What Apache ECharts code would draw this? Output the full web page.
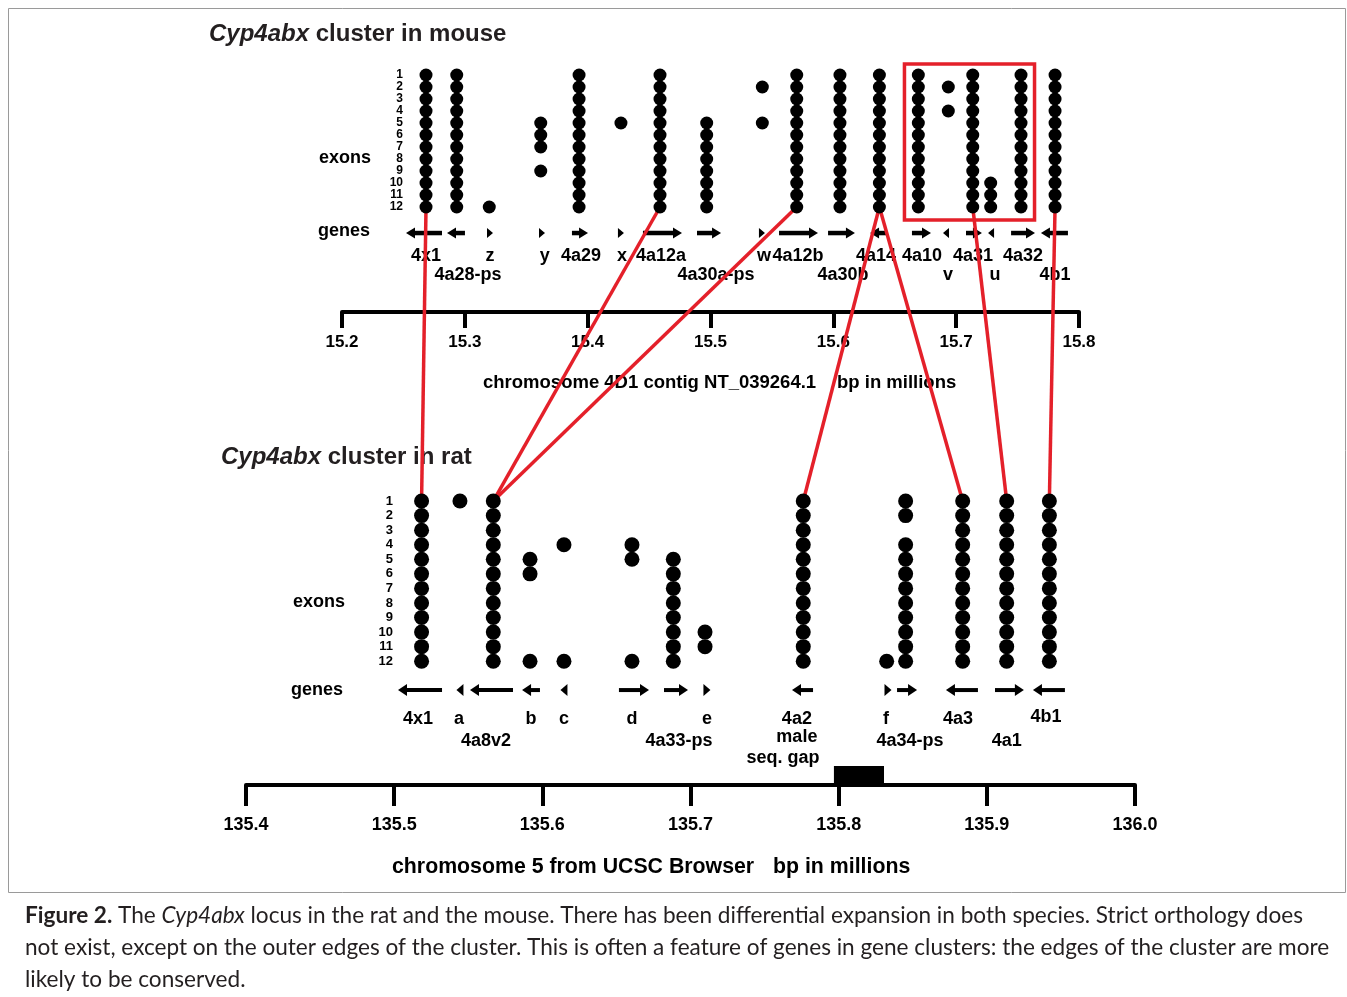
<!DOCTYPE html>
<html><head><meta charset="utf-8">
<script src="https://cdn.jsdelivr.net/npm/echarts@6/dist/echarts.min.js"></script>
<style>html,body{margin:0;padding:0;background:#fff}#c{width:1347px;height:997px}</style>
</head><body><div id="c"></div>
<script>
// ---------------- MOUSE (chromosome 4D1, Mb) ----------------
const mouseGeneNames = ['4x1','4a28-ps','z','y','4a29','x','4a12a','4a30a-ps','w','4a12b','4a30b','4a14','4a10','v','4a31','u','4a32','4b1'];
const mouseGenePos   = [15.2684,15.2934,15.3199,15.3618,15.3930,15.4271,15.4589,15.4969,15.5422,15.5702,15.6054,15.6375,15.6692,15.6936,15.7135,15.7281,15.7528,15.7805];
const mouseExons = [
  [1,2,3,4,5,6,7,8,9,10,11,12],
  [1,2,3,4,5,6,7,8,9,10,11,12],
  [12],
  [5,6,7,9],
  [1,2,3,4,5,6,7,8,9,10,11,12],
  [5],
  [1,2,3,4,5,6,7,8,9,10,11,12],
  [5,6,7,8,9,10,11,12],
  [2,5],
  [1,2,3,4,5,6,7,8,9,10,11,12],
  [1,2,3,4,5,6,7,8,9,10,11,12],
  [1,2,3,4,5,6,7,8,9,10,11,12],
  [1,2,3,4,5,6,7,8,9,10,11,12],
  [2,4],
  [1,2,3,4,5,6,7,8,9,10,11,12],
  [10,11,12],
  [1,2,3,4,5,6,7,8,9,10,11,12],
  [1,2,3,4,5,6,7,8,9,10,11,12]
];
// gene arrows: [tail, head] in Mb
const mouseArrowTail = [15.2814,15.3001,15.3872,15.4450,15.4890,15.5558,15.5957,15.6437,15.6640,15.7080,15.7447,15.7910];
const mouseArrowHead = [15.2521,15.2855,15.4003,15.4768,15.5086,15.5875,15.6176,15.6299,15.6795,15.7210,15.7642,15.7690];
// short genes: triangle position and direction (+1 right, -1 left)
const mouseTriPos = [15.3205,15.3628,15.4271,15.5419,15.6917,15.7284];
const mouseTriDir = [1,1,1,1,-1,-1];
// gene labels
const mouseLabelText = ['4x1','z','y','4a29','x','4a12a','w','4a12b','4a14','4a10','4a31','4a32','4a28-ps','4a30a-ps','4a30b','v','u','4b1'];
const mouseLabelPos  = [15.2684,15.3205,15.3650,15.3946,15.4280,15.4597,15.5436,15.5712,15.6347,15.6722,15.7137,15.7544,15.3026,15.5045,15.6079,15.6934,15.7316,15.7805];
const mouseLabelLine = [1,1,1,1,1,1,1,1,1,1,1,1,2,2,2,2,2,2];
const mouseBoxX = [15.6579,15.7638];
const mouseBoxRows = [0.08,13.08];
const mouseTicks = ['15.2','15.3','15.4','15.5','15.6','15.7','15.8'];

// ---------------- RAT (chromosome 5, Mb) ----------------
const ratGeneNames = ['4x1','a','4a8v2','b','c','d','4a33-ps','e','4a2','f','4a34-ps','4a3','4a1','4b1'];
const ratGenePos   = [135.5185,135.5444,135.5669,135.5917,135.6146,135.6605,135.6884,135.7098,135.7761,135.8324,135.8452,135.8837,135.9134,135.9422];
const ratExons = [
  [1,2,3,4,5,6,7,8,9,10,11,12],
  [1],
  [1,2,3,4,5,6,7,8,9,10,11,12],
  [5,6,12],
  [4,12],
  [4,5,12],
  [5,6,7,8,9,10,11,12],
  [10,11],
  [1,2,3,4,5,6,7,8,9,10,11,12],
  [12],
  [1,2,4,5,6,7,8,9,10,11,12],
  [1,2,3,4,5,6,7,8,9,10,11,12],
  [1,2,3,4,5,6,7,8,9,10,11,12],
  [1,2,3,4,5,6,7,8,9,10,11,12]
];
const ratArrowTail = [135.5323,135.5802,135.5984,135.6517,135.6821,135.7827,135.8394,135.8940,135.9055,135.9527];
const ratArrowHead = [135.5026,135.5512,135.5863,135.6720,135.6983,135.7685,135.8529,135.8724,135.9250,135.9311];
const ratTriPos = [135.5444,135.6146,135.7111,135.8333];
const ratTriDir = [-1,-1,1,1];
const ratLabelText = ['4x1','a','b','c','d','e','4a2','f','4a3','4b1','4a8v2','4a33-ps','male','4a34-ps','4a1','seq. gap'];
const ratLabelPos  = [135.5161,135.5438,135.5923,135.6146,135.6605,135.7111,135.7718,135.8319,135.8805,135.9399,135.5620,135.6922,135.7718,135.8481,135.9134,135.7624];
const ratLabelRow  = [15.97,15.97,15.97,15.97,15.97,15.97,15.97,15.97,15.97,15.83,17.48,17.48,17.2,17.48,17.48,18.65];
const ratGapX = [135.7968,135.8306];
const ratGapRows = [19.19,20.5];
const ratTicks = ['135.4','135.5','135.6','135.7','135.8','135.9','136.0'];

// orthology links: [mouse gene, rat gene]
const orthoLinks = [['4x1','4x1'],['4a12a','4a8v2'],['4a12b','4a8v2'],['4a14','4a2'],['4a14','4a3'],['4a31','4a1'],['4b1','4b1']];

// caption lines
const captionLines = [
  '{b|Figure 2.} The {i|Cyp4abx} locus in the rat and the mouse. There has been differential expansion in both species. Strict orthology does',
  'not exist, except on the outer edges of the cluster. This is often a feature of genes in gene clusters: the edges of the cluster are more',
  'likely to be conserved.'
];

// ---------------- chart ----------------
const FONT = "'Liberation Sans', Arial, Helvetica, sans-serif";
const CAPFONT = "Lato, 'Open Sans', sans-serif";
const RED = '#e4202a';
const chart = echarts.init(document.getElementById('c'));

// caption size fitted to the reference line width (line 2 spans ~1305 px)
const mctx = document.createElement('canvas').getContext('2d');
mctx.font = '20px ' + CAPFONT;
const capSize = Math.min(24, 20 * 1305 / mctx.measureText(captionLines[1]).width);

function exonPoints(pos, exons){ const out=[]; pos.forEach((p,i)=>exons[i].forEach(e=>out.push([p,e]))); return out; }
function arrowRender(headLen, headHalf, shaft){
  return function(params, api){
    const t = api.coord([api.value(0), api.value(2)]);
    const h = api.coord([api.value(1), api.value(2)]);
    const d = h[0] > t[0] ? 1 : -1;
    const bx = h[0] - d*headLen;
    return {type:'group', children:[
      {type:'line', shape:{x1:t[0], y1:t[1], x2:bx + d, y2:t[1]}, style:{stroke:'#000', lineWidth:shaft}},
      {type:'polygon', shape:{points:[[h[0],h[1]],[bx,h[1]-headHalf],[bx,h[1]+headHalf]]}, style:{fill:'#000'}}
    ]};
  };
}
function triRender(w, half){
  return function(params, api){
    const c = api.coord([api.value(0), api.value(2)]);
    const d = api.value(1);
    return {type:'polygon', shape:{points:[[c[0]+d*w/2,c[1]],[c[0]-d*w/2,c[1]-half],[c[0]-d*w/2,c[1]+half]]}, style:{fill:'#000'}};
  };
}
function labelRender(texts, size){
  return function(params, api){
    const c = api.coord([api.value(0), api.value(1)]);
    return {type:'text', x:c[0], y:c[1], style:{text:texts[params.dataIndex], fill:'#000', font:'bold '+size+'px '+FONT, align:'center', verticalAlign:'middle', textAlign:'center', textVerticalAlign:'middle'}};
  };
}
function rectRender(stroke, fill, lw){
  return function(params, api){
    const a = api.coord([api.value(0), api.value(2)]);
    const b = api.coord([api.value(1), api.value(3)]);
    return {type:'rect', shape:{x:a[0], y:a[1], width:b[0]-a[0], height:b[1]-a[1]}, style:{stroke:stroke, fill:fill, lineWidth:lw}};
  };
}

const MOUSE_ARROW_ROW = 14.17, RAT_ARROW_ROW = 13.98;
const mouseLabelRows = mouseLabelLine.map(l => l === 1 ? 16.08 : 17.67);

const option = {
  animation:false,
  backgroundColor:'#fff',
  grid:[
    {left:342, top:63, width:737, height:249},
    {left:246, top:486.5, width:889, height:298.5}
  ],
  xAxis:[
    {gridIndex:0, type:'value', position:'bottom', min:15.2, max:15.8, interval:0.1,
     axisLine:{onZero:false, lineStyle:{color:'#000', width:4}},
     axisTick:{length:16, lineStyle:{color:'#000', width:4}},
     splitLine:{show:false},
     axisLabel:{margin:22, color:'#000', fontFamily:FONT, fontWeight:'bold', fontSize:17,
       formatter:(v)=>mouseTicks[Math.round((v-15.2)*10)]}},
    {gridIndex:1, type:'value', position:'bottom', min:135.4, max:136.0, interval:0.1,
     axisLine:{onZero:false, lineStyle:{color:'#000', width:4}},
     axisTick:{length:21, lineStyle:{color:'#000', width:4}},
     splitLine:{show:false},
     axisLabel:{margin:31, color:'#000', fontFamily:FONT, fontWeight:'bold', fontSize:18,
       formatter:(v)=>ratTicks[Math.round((v-135.4)*10)]}}
  ],
  yAxis:[
    {gridIndex:0, type:'value', min:0, max:20.75, interval:1, inverse:true,
     axisLine:{show:false, onZero:false}, axisTick:{show:false}, splitLine:{show:false},
     axisLabel:{margin:-61, color:'#000', fontFamily:FONT, fontWeight:'bold', fontSize:12,
       formatter:(v)=> (v>=1 && v<=12) ? String(v) : ''}},
    {gridIndex:1, type:'value', min:0, max:20.5, interval:1, inverse:true,
     axisLine:{show:false, onZero:false}, axisTick:{show:false}, splitLine:{show:false},
     axisLabel:{margin:-147, color:'#000', fontFamily:FONT, fontWeight:'bold', fontSize:13,
       formatter:(v)=> (v>=1 && v<=12) ? String(v) : ''}}
  ],
  series:[
    {type:'scatter', xAxisIndex:0, yAxisIndex:0, symbol:'circle', symbolSize:13, itemStyle:{color:'#000', opacity:1}, z:10, silent:true,
     data:exonPoints(mouseGenePos, mouseExons)},
    {type:'scatter', xAxisIndex:1, yAxisIndex:1, symbol:'circle', symbolSize:15, itemStyle:{color:'#000', opacity:1}, z:10, silent:true,
     data:exonPoints(ratGenePos, ratExons)},
    {type:'custom', xAxisIndex:0, yAxisIndex:0, z:2, silent:true, encode:{x:[0,1], y:2},
     renderItem:arrowRender(9, 5.5, 4.5),
     data:mouseArrowTail.map((t,i)=>[t, mouseArrowHead[i], MOUSE_ARROW_ROW])},
    {type:'custom', xAxisIndex:0, yAxisIndex:0, z:2, silent:true, encode:{x:0, y:2},
     renderItem:triRender(6, 5),
     data:mouseTriPos.map((p,i)=>[p, mouseTriDir[i], MOUSE_ARROW_ROW])},
    {type:'custom', xAxisIndex:0, yAxisIndex:0, z:2, silent:true, encode:{x:0, y:1},
     renderItem:labelRender(mouseLabelText, 18),
     data:mouseLabelPos.map((p,i)=>[p, mouseLabelRows[i]])},
    {type:'custom', xAxisIndex:1, yAxisIndex:1, z:2, silent:true, encode:{x:[0,1], y:2},
     renderItem:arrowRender(9, 6, 4),
     data:ratArrowTail.map((t,i)=>[t, ratArrowHead[i], RAT_ARROW_ROW])},
    {type:'custom', xAxisIndex:1, yAxisIndex:1, z:2, silent:true, encode:{x:0, y:2},
     renderItem:triRender(7, 6),
     data:ratTriPos.map((p,i)=>[p, ratTriDir[i], RAT_ARROW_ROW])},
    {type:'custom', xAxisIndex:1, yAxisIndex:1, z:2, silent:true, encode:{x:0, y:1},
     renderItem:labelRender(ratLabelText, 18),
     data:ratLabelPos.map((p,i)=>[p, ratLabelRow[i]])},
    {type:'custom', xAxisIndex:0, yAxisIndex:0, z:6, silent:true, encode:{x:[0,1], y:[2,3]},
     renderItem:rectRender(RED, 'none', 3.5),
     data:[[mouseBoxX[0], mouseBoxX[1], mouseBoxRows[0], mouseBoxRows[1]]]},
    {type:'custom', xAxisIndex:1, yAxisIndex:1, z:2, silent:true, encode:{x:[0,1], y:[2,3]},
     renderItem:rectRender('none', '#000', 0),
     data:[[ratGapX[0], ratGapX[1], ratGapRows[0], ratGapRows[1]]]}
  ]
};
chart.setOption(option);

// graphic: texts, frame, orthology links (through the axes' own conversion)
const txt = (x, y, text, size, extra) => Object.assign({type:'text', x:x, y:y, z:1,
  style:{text:text, fill:'#000', font:'bold '+size+'px '+FONT, align:'left', verticalAlign:'middle'}}, extra||{});
const capRich = {b:{fontWeight:'bold', fontSize:capSize, fontFamily:CAPFONT, fill:'#231f20'},
                 i:{fontStyle:'italic', fontSize:capSize, fontFamily:CAPFONT, fill:'#231f20'}};
const graphics = [
  {type:'rect', z:0, shape:{x:8.5, y:8.5, width:1337, height:884}, style:{fill:'none', stroke:'#9a9a9a', lineWidth:1}},
  {type:'text', x:209, y:34, z:1, style:{text:'{i|Cyp4abx} cluster in mouse', fill:'#231f20', font:'bold 24px '+FONT, verticalAlign:'middle',
     rich:{i:{fontStyle:'italic', fontWeight:'bold', fontSize:24, fontFamily:FONT, fill:'#231f20'}}}},
  {type:'text', x:221, y:457, z:1, style:{text:'{i|Cyp4abx} cluster in rat', fill:'#231f20', font:'bold 24px '+FONT, verticalAlign:'middle',
     rich:{i:{fontStyle:'italic', fontWeight:'bold', fontSize:24, fontFamily:FONT, fill:'#231f20'}}}},
  txt(319, 158, 'exons', 18),
  txt(318, 231, 'genes', 18),
  txt(293, 602, 'exons', 18),
  txt(291, 690, 'genes', 18),
  txt(483, 383, 'chromosome 4D1 contig NT_039264.1', 18.5),
  txt(837, 383, 'bp in millions', 18.5),
  txt(392, 867, 'chromosome 5 from UCSC Browser', 21.3),
  txt(773, 867, 'bp in millions', 21.3)
];
captionLines.forEach((line, k) => {
  graphics.push({type:'text', x:25, y:916 + 32*k, z:1, style:{text:line, fill:'#231f20', font:capSize+'px '+CAPFONT, verticalAlign:'middle', rich:capRich}});
});
orthoLinks.forEach(([m, r]) => {
  const mi = mouseGeneNames.indexOf(m), ri = ratGeneNames.indexOf(r);
  const mEx = mouseExons[mi], rEx = ratExons[ri];
  const p1 = chart.convertToPixel({xAxisIndex:0, yAxisIndex:0}, [mouseGenePos[mi], mEx[mEx.length-1]]);
  const p2 = chart.convertToPixel({xAxisIndex:1, yAxisIndex:1}, [ratGenePos[ri], rEx[0]]);
  graphics.push({type:'line', z:5, shape:{x1:p1[0], y1:p1[1], x2:p2[0], y2:p2[1]}, style:{stroke:RED, lineWidth:3.5}});
});
chart.setOption({graphic:graphics});
</script>
</body></html>
